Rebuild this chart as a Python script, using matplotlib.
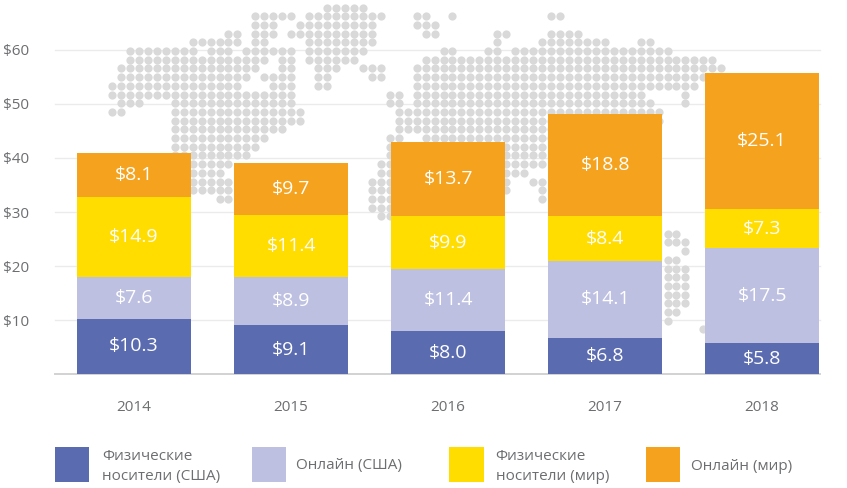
import matplotlib
matplotlib.use("Agg")
import matplotlib.pyplot as plt
from matplotlib.patches import Rectangle

plt.rcParams['font.family'] = ['Open Sans', 'DejaVu Sans']

years = ['2014', '2015', '2016', '2017', '2018']
phys_us = [10.3, 9.1, 8.0, 6.8, 5.8]
online_us = [7.6, 8.9, 11.4, 14.1, 17.5]
phys_world = [14.9, 11.4, 9.9, 8.4, 7.3]
online_world = [8.1, 9.7, 13.7, 18.8, 25.1]
yticks = [10, 20, 30, 40, 50, 60]

C_PU, C_OU, C_PW, C_OW = '#5a6bb0', '#bdc0e1', '#ffdd00', '#f5a31e'
GRAY = '#6d6e71'

# decorative dotted world map: per grid row, spans of grid columns
map_rows = [
    [(24, 28)],
    [(16, 20), (22, 30), (34, 35), (38, 38), (49, 50)],
    [(16, 18), (21, 29), (34, 36)],
    [(13, 14), (16, 18), (20, 29), (35, 36), (43, 44), (49, 52)],
    [(9, 14), (16, 17), (22, 29), (43, 43), (48, 55), (59, 60)],
    [(2, 9), (11, 13), (15, 20), (22, 28), (37, 38), (42, 43), (45, 62)],
    [(2, 17), (19, 20), (22, 27), (35, 67)],
    [(1, 16), (19, 20), (23, 25), (28, 30), (34, 68)],
    [(1, 15), (17, 20), (23, 24), (29, 30), (34, 67)],
    [(0, 14), (18, 20), (23, 24), (34, 65)],
    [(0, 20), (31, 32), (34, 59), (64, 64)],
    [(1, 3), (7, 20), (31, 32), (34, 60), (64, 64)],
    [(0, 1), (7, 21), (32, 61)],
    [(7, 21), (32, 61)],
    [(7, 19), (32, 60)],
    [(7, 17), (31, 32), (35, 50)],
    [(7, 16), (31, 31), (33, 48)],
    [(7, 15), (31, 31), (33, 48)],
    [(7, 13), (30, 31), (33, 48)],
    [(7, 12), (30, 31), (33, 46)],
    [(7, 13), (29, 31), (33, 44), (47, 48)],
    [(8, 13), (29, 31), (33, 44), (48, 48)],
    [(12, 13), (29, 31), (33, 35), (48, 48)],
    [(29, 31)],
    [(30, 31)],
    [],
    [(62, 63)],
    [(62, 64)],
    [(64, 64)],
    [(62, 63)],
    [(62, 64)],
    [(62, 64)],
    [(62, 64)],
    [(62, 64)],
    [(62, 64)],
    [(62, 63)],
    [(62, 62)],
    [(66, 66)],
]

W, H = 847, 488
fig = plt.figure(figsize=(W / 100, H / 100), dpi=100, facecolor='white')

# pixel-coordinate layer for the map and legend
bg = fig.add_axes([0, 0, 1, 1], zorder=0)
bg.set_xlim(0, W)
bg.set_ylim(H, 0)
bg.axis('off')

ax_left, ax_right, ax_zero, ax_top = 55, 820, 374.3, 22
ax = fig.add_axes([ax_left / W, (H - ax_zero) / H, (ax_right - ax_left) / W,
                   (ax_zero - ax_top) / H], zorder=1)
ax.patch.set_alpha(0)

xs, ys = [], []
for r, spans in enumerate(map_rows):
    for a, b in spans:
        for c in range(a, b + 1):
            xs.append(112 + 8.96 * c)
            ys.append(7.5 + 8.7 * r)
bg.scatter(xs, ys, s=35, color='#d9d9d9', linewidths=0, zorder=2)

# horizontal gridlines sit in the pixel layer beneath the dots
for v in yticks:
    y = ax_zero - v * 5.408
    bg.plot([ax_left, ax_right], [y, y], color='#ebebeb', lw=1.0, zorder=1)

x = list(range(len(years)))
bottom = [0.0] * len(years)
for vals, col in [(phys_us, C_PU), (online_us, C_OU), (phys_world, C_PW), (online_world, C_OW)]:
    ax.bar(x, vals, width=0.723, bottom=bottom, color=col, linewidth=0, zorder=3)
    for i, v in enumerate(vals):
        ax.text(i, bottom[i] + v / 2, f'${v:.1f}', ha='center', va='center',
                color='white', fontsize=14, zorder=4)
    bottom = [b + v for b, v in zip(bottom, vals)]

ax.set_xlim((ax_left - 134) / 157, (ax_right - 134) / 157)
ax.set_ylim(0, (ax_zero - ax_top) / 5.408)
ax.set_xticks(x, years)
ax.set_yticks(yticks, [f'${v}' for v in yticks])
ax.tick_params(axis='x', length=0, pad=18.7, labelsize=11, labelcolor=GRAY)
ax.tick_params(axis='y', length=0, pad=37.4, labelsize=11, labelcolor=GRAY)
for lab in ax.get_yticklabels():
    lab.set_ha('left')
for s in ['top', 'right', 'left']:
    ax.spines[s].set_visible(False)
ax.spines['bottom'].set_color('#d2d2d2')
ax.spines['bottom'].set_linewidth(1.4)

# legend
swatch_x = [54.5, 251.5, 449, 645.5]
swatch_c = [C_PU, C_OU, C_PW, C_OW]
legend_labels = [['Физические', 'носители (США)'], ['Онлайн (США)'],
                 ['Физические', 'носители (мир)'], ['Онлайн (мир)']]
text_x = [102, 296, 495.5, 691]
for sx, col, lines, tx in zip(swatch_x, swatch_c, legend_labels, text_x):
    bg.add_patch(Rectangle((sx, 447), 34.5, 35, facecolor=col, linewidth=0))
    if len(lines) == 2:
        bg.text(tx, 456.5, lines[0], color=GRAY, fontsize=11, va='center')
        bg.text(tx, 476.5, lines[1], color=GRAY, fontsize=11, va='center')
    else:
        bg.text(tx, 466, lines[0], color=GRAY, fontsize=11, va='center')

fig.savefig('out.png', dpi=100)
